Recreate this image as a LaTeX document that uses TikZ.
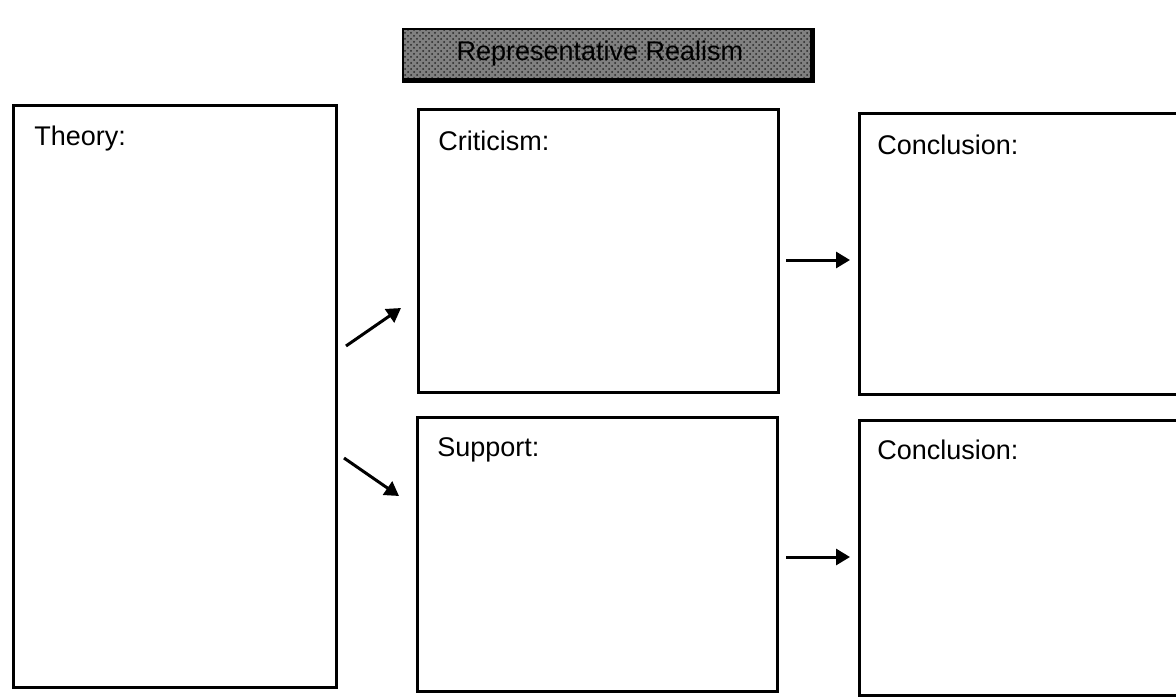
\documentclass[tikz,border=0pt]{standalone}
\usepackage{fontspec}
\setmainfont{Liberation Sans}
\usetikzlibrary{arrows.meta,patterns}
\begin{document}
\begin{tikzpicture}[x=0.5pt,y=-0.5pt,
  panel/.style={draw=black,line width=1.4pt,fill=white,inner sep=0pt,anchor=north west},
  heading/.style={anchor=base west,font=\fontsize{13.5}{16}\selectfont,inner sep=0pt},
  flow/.style={line width=1.5pt,-{Triangle[length=7pt,width=8pt]}},
  banner/.style={draw=black,line width=0.9pt,inner sep=0pt,anchor=north west,
    preaction={fill=black!50},pattern=crosshatch dots,pattern color=black!85}]
  \useasboundingbox (0,0) rectangle (1176,696);
  \clip (0,0) rectangle (1176,696);
  \fill[white] (0,0) rectangle (1176,696);

  % title banner with a heavier right and bottom edge
  \node[banner,minimum width=204pt,minimum height=25pt] (title) at (402,28) {};
  \draw[line width=1.6pt] ([xshift=0.6pt]title.north east) -- ([xshift=0.6pt,yshift=-0.6pt]title.south east)
    -- ([yshift=-0.6pt]title.south west);
  \node[font=\fontsize{13.5}{16}\selectfont,inner sep=1pt] (titletext)
    at ([xshift=-3.5pt]title.center) {Representative Realism};

  % boxes
  \node[panel,minimum width=161.5pt,minimum height=291pt] (theory) at (12,104) {};
  \node[panel,minimum width=180pt,minimum height=141.5pt] (crit) at (417,108) {};
  \node[panel,minimum width=180pt,minimum height=137pt] (supp) at (416,416) {};
  \node[panel,minimum width=180pt,minimum height=140.5pt] (concA) at (858,112) {};
  \node[panel,minimum width=180pt,minimum height=137.5pt] (concB) at (858,419) {};

  % headings
  \node[heading] (theorylbl) at ([xshift=11pt,yshift=-20.5pt]theory.north west) {Theory:};
  \node[heading] (critlbl) at ([xshift=10.5pt,yshift=-21pt]crit.north west) {Criticism:};
  \node[heading] (supplbl) at ([xshift=10.5pt,yshift=-20pt]supp.north west) {Support:};
  \node[heading] (concAlbl) at ([xshift=9.5pt,yshift=-21pt]concA.north west) {Conclusion:};
  \node[heading] (concBlbl) at ([xshift=9.5pt,yshift=-20pt]concB.north west) {Conclusion:};

  % arrows between the columns
  \coordinate (t1) at (346,346);
  \coordinate (h1) at (401,308);
  \coordinate (t2) at (344,458);
  \coordinate (h2) at (399,496);
  \coordinate (t3) at (786,260);
  \coordinate (h3) at (850,260);
  \coordinate (t4) at (786,557);
  \coordinate (h4) at (850,557);
  \draw[flow] (t1) -- (h1);
  \draw[flow] (t2) -- (h2);
  \draw[flow] (t3) -- (h3);
  \draw[flow] (t4) -- (h4);
\end{tikzpicture}
\end{document}
